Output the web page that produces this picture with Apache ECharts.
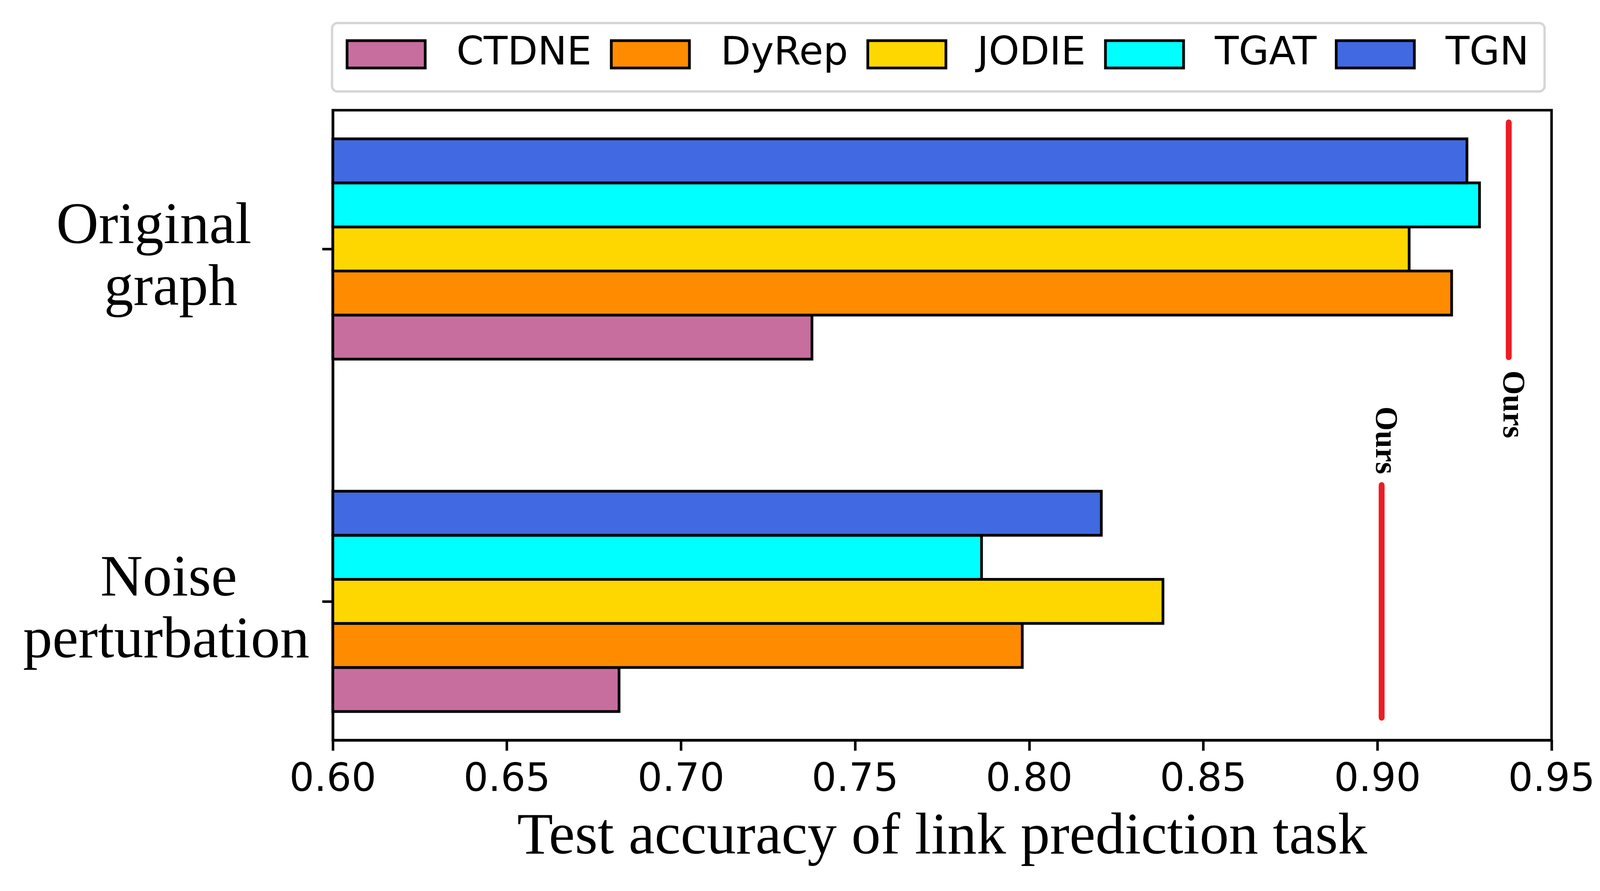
<!DOCTYPE html>
<html>
<head>
<meta charset="utf-8">
<script src="https://cdn.jsdelivr.net/npm/echarts@6/dist/echarts.min.js"></script>
<style>
html,body{margin:0;padding:0;background:#fff;}
#chart{width:4143px;height:2280px;}
</style>
</head>
<body>
<div id="chart"></div>
<script>
// ---- data ----
const categories = ['Noise perturbation', 'Original graph']; // y = 0, 1
const categoryLines = [['Noise', 'perturbation'], ['Original', 'graph']];
const models = ['CTDNE', 'DyRep', 'JODIE', 'TGAT', 'TGN'];
const CTDNE = [0.6822, 0.7376];
const DyRep = [0.7980, 0.9213];
const JODIE = [0.8384, 0.9091];
const TGAT  = [0.7863, 0.9293];
const TGN   = [0.8207, 0.9257];
const ours  = [0.9012, 0.9377];
const xTicks = [0.60, 0.65, 0.70, 0.75, 0.80, 0.85, 0.90, 0.95];

// ---- style / layout ----
const colors = ['#C76E9F', '#FF8C00', '#FFD700', '#00FFFF', '#4169E1'];
const seriesValues = [CTDNE, DyRep, JODIE, TGAT, TGN];
const BAR_H = 0.125;
const X_MIN = 0.60, X_MAX = 0.95;
const SERIF = '"Liberation Serif", "Times New Roman", serif';
const SANS = '"DejaVu Sans", sans-serif';
const EDGE = 7;
const FRAME = 6.5;

const chart = echarts.init(document.getElementById('chart'), null, {renderer: 'canvas'});

const barSeries = models.map(function (name, si) {
  const offset = (si - 2) * BAR_H;
  return {
    name: name,
    type: 'custom',
    coordinateSystem: 'cartesian2d',
    itemStyle: {color: colors[si]},
    encode: {x: 0, y: 1},
    data: seriesValues[si].map(function (v, ci) { return [v, ci]; }),
    z: 2 + si,
    renderItem: function (params, api) {
      const v = api.value(0), c = api.value(1);
      const pTop = api.coord([X_MIN, c + offset + BAR_H / 2]);
      const pBot = api.coord([v, c + offset - BAR_H / 2]);
      return {
        type: 'rect',
        shape: {x: pTop[0], y: pTop[1], width: pBot[0] - pTop[0], height: pBot[1] - pTop[1]},
        style: {fill: api.visual('color'), stroke: '#000', lineWidth: EDGE}
      };
    }
  };
});

// layout of the "Ours" markers (vertical extent and label position, in y-axis units)
const oursSpan = [[-0.33, 0.33], [0.693, 1.359]];
const oursLabelY = [0.457, 0.559];

const oursSeries = {
  name: 'Ours',
  type: 'custom',
  coordinateSystem: 'cartesian2d',
  encode: {x: 0, y: 1},
  data: ours.map(function (v, ci) { return [v, ci]; }),
  z: 10,
  renderItem: function (params, api) {
    const v = api.value(0), c = api.value(1);
    const a = api.coord([v, oursSpan[c][1]]);
    const b = api.coord([v, oursSpan[c][0]]);
    const t = api.coord([v, oursLabelY[c]]);
    return {
      type: 'group',
      children: [
        {type: 'line', shape: {x1: a[0], y1: a[1], x2: b[0], y2: b[1]},
         style: {stroke: '#ED1C24', lineWidth: 15, lineCap: 'round'}},
        {type: 'text', x: t[0] + 7, y: t[1], rotation: -Math.PI / 2,
         style: {text: 'Ours', fill: '#000', font: 'bold 80px ' + SERIF,
                 align: 'center', verticalAlign: 'middle'}}
      ]
    };
  }
};

const labelFont = {fontFamily: SERIF, fontSize: 150, lineHeight: 158, color: '#000', align: 'right'};

const option = {
  backgroundColor: '#fff',
  animation: false,
  grid: {left: 852, right: 171, top: 282, bottom: 386, show: true,
         borderColor: '#000', borderWidth: FRAME, backgroundColor: 'transparent'},
  legend: {
    data: models,
    orient: 'horizontal',
    left: 850, top: 59,
    padding: [30, 40, 45, 35],
    itemGap: 47,
    itemWidth: 200, itemHeight: 70,
    icon: 'rect',
    itemStyle: {borderColor: '#000', borderWidth: EDGE},
    textStyle: {fontFamily: SANS, fontSize: 100, color: '#000', padding: [0, 0, 0, 75]},
    borderColor: '#d6d6d6', borderWidth: 6, borderRadius: 14,
    backgroundColor: '#fff'
  },
  xAxis: {
    type: 'value', min: X_MIN, max: X_MAX, interval: 0.05,
    axisLine: {show: true, onZero: false, lineStyle: {color: '#000', width: FRAME}},
    axisTick: {show: true, length: 27, lineStyle: {color: '#000', width: FRAME},
               customValues: xTicks},
    axisLabel: {customValues: xTicks, margin: 54, fontFamily: SANS, fontSize: 100, color: '#000',
                formatter: function (v) { return Number(v).toFixed(2); }},
    splitLine: {show: false},
    name: 'Test accuracy of link prediction task',
    nameLocation: 'middle', nameGap: 176,
    nameTextStyle: {fontFamily: SERIF, fontSize: 150, color: '#000'}
  },
  yAxis: {
    type: 'value', min: -0.39375, max: 1.39375,
    axisLine: {show: true, onZero: false, lineStyle: {color: '#000', width: FRAME}},
    axisTick: {show: true, length: 27, lineStyle: {color: '#000', width: FRAME},
               customValues: [0, 1]},
    axisLabel: {
      customValues: [0, 1],
      margin: 60,
      padding: [50, 0, 0, 0],
      formatter: function (v) {
        const i = Math.round(v);
        const L = categoryLines[i];
        if (i === 1) return '{o1|' + L[0] + '}\n{o2|' + L[1] + '}';
        return '{n1|' + L[0] + '}\n{n2|' + L[1] + '}';
      },
      rich: {
        o1: Object.assign({padding: [0, 148, 0, 0]}, labelFont),
        o2: Object.assign({padding: [0, 184, 0, 0]}, labelFont),
        n1: Object.assign({padding: [0, 185, 0, 0]}, labelFont),
        n2: Object.assign({padding: [0, 0, 0, 0]}, labelFont)
      }
    },
    splitLine: {show: false}
  },
  series: barSeries.concat([oursSeries])
};

chart.setOption(option);
</script>
</body>
</html>
